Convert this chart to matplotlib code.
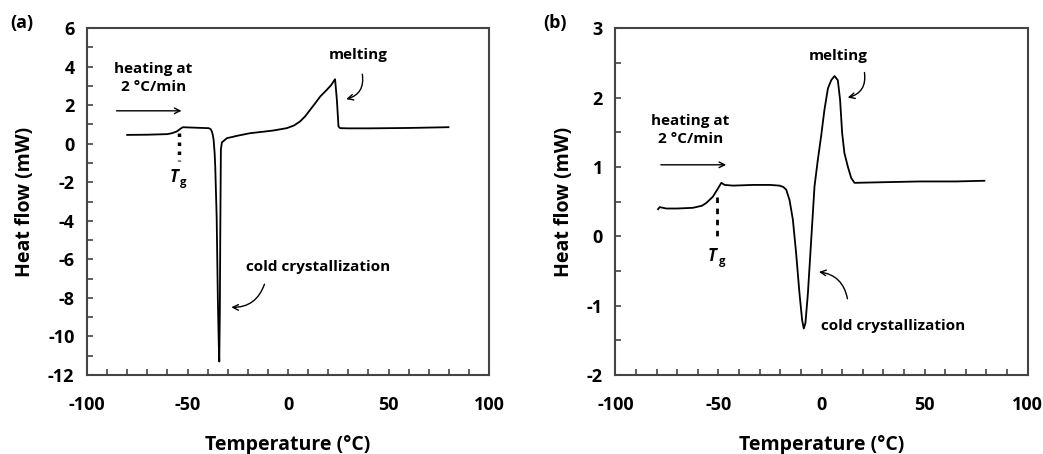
import matplotlib.pyplot as plt
from matplotlib.ticker import MultipleLocator

plt.rcParams["font.family"] = ["Open Sans", "DejaVu Sans"]
plt.rcParams["font.weight"] = "bold"
plt.rcParams["axes.unicode_minus"] = False

# panel (a) DSC trace
temp_a = [-80, -70, -60, -57.7, -55.3, -53.5, -52.3, -50.3, -45, -39.5, -38.5, -37.9, -37.4, -37.0,
          -36.5, -36.2, -35.5, -34.9, -34.5, -34.2, -33.9, -33.7, -33.4, -32.9, -30.4, -25, -18.8,
          -12, -7.2, -0.6, 3, 6.0, 8.5, 11.0, 13.5, 16.0, 19.3, 21.5, 22.6, 23.4, 24.3, 25.1, 25.9,
          30, 40, 50, 60, 70, 79.8]
flow_a = [0.46, 0.47, 0.5, 0.55, 0.64, 0.78, 0.86, 0.85, 0.83, 0.81, 0.76, 0.64, 0.45, 0.2,
          -0.5, -1.2, -3.8, -8.1, -10.2, -11.3, -8.5, -4.7, -0.3, 0.07, 0.29, 0.42, 0.55,
          0.63, 0.69, 0.81, 0.95, 1.16, 1.42, 1.76, 2.1, 2.45, 2.8, 3.05, 3.23, 3.35, 2.28, 0.9, 0.81,
          0.8, 0.8, 0.81, 0.82, 0.84, 0.86]

# panel (b) DSC trace
temp_b = [-79.3, -78.5, -75.3, -70, -62.4, -58, -55.9, -52.7, -50.2, -48.6, -47, -43, -33.3, -25,
          -20.4, -18.5, -17.1, -15.5, -13.9, -12.3, -10.7, -9.4, -8.6, -7.8, -6.6, -5.0, -3.4, -1.8,
          -0.2, 1.4, 3.1, 4.7, 6.3, 7.9, 9.0, 10.0, 11.1, 12.8, 14.4, 16.0, 31.3, 47.5, 65, 79.0]
flow_b = [0.39, 0.42, 0.40, 0.40, 0.41, 0.44, 0.48, 0.57, 0.69, 0.77, 0.74, 0.73, 0.74, 0.74,
          0.73, 0.71, 0.67, 0.52, 0.24, -0.25, -0.82, -1.21, -1.33, -1.25, -0.82, -0.05, 0.72, 1.10,
          1.44, 1.82, 2.13, 2.25, 2.31, 2.25, 1.97, 1.49, 1.2, 1.0, 0.84, 0.77, 0.78, 0.79, 0.79, 0.80]

fig = plt.figure(figsize=(10.43, 4.54), dpi=100)
ax_a = fig.add_axes([0.0834, 0.174, 0.3855, 0.764])
ax_b = fig.add_axes([0.590, 0.174, 0.3953, 0.764])

spine_col = "#444444"
for ax in (ax_a, ax_b):
    for s in ax.spines.values():
        s.set_color(spine_col)
        s.set_linewidth(1.5)
    ax.set_xlim(-100, 100)
    ax.xaxis.set_major_locator(MultipleLocator(50))
    ax.xaxis.set_minor_locator(MultipleLocator(10))
    ax.tick_params(which="both", direction="in", length=4, width=1.2, color=spine_col,
                   top=False, right=False)
    ax.tick_params(axis="x", which="major", pad=15, labelsize=13)
    ax.tick_params(axis="y", which="major", pad=9, labelsize=13)
    ax.set_xlabel("Temperature (°C)", fontsize=14, fontweight="bold", labelpad=15)
    ax.set_ylabel("Heat flow (mW)", fontsize=14, fontweight="bold", labelpad=9)

# (a)
ax_a.plot(temp_a, flow_a, color="black", lw=1.3)
ax_a.set_ylim(-12, 6)
ax_a.yaxis.set_major_locator(MultipleLocator(2))
ax_a.yaxis.set_minor_locator(MultipleLocator(1))

ax_a.annotate("", xy=(-51.6, 1.71), xytext=(-86.7, 1.71),
              arrowprops=dict(arrowstyle="->", color="black", lw=1))
ax_a.text(-67, 3.4, "heating at\n2 °C/min", ha="center", va="center", fontsize=11,
          fontweight="bold", linespacing=1.35)
ax_a.plot([-54.4, -54.4], [0.55, -0.9], color="black", lw=2.5, linestyle=(0, (1, 1.6)))
ax_a.text(-54.5, -1.75, "T", style="italic", fontsize=12, fontweight="bold", ha="right", va="center")
ax_a.text(-53.8, -2.0, "g", fontsize=8, fontweight="bold", ha="left", va="center")
ax_a.text(35, 4.6, "melting", ha="center", va="center", fontsize=11, fontweight="bold")
ax_a.annotate("", xy=(27.6, 2.28), xytext=(36.7, 3.75),
              arrowprops=dict(arrowstyle="->", color="black", lw=1,
                              connectionstyle="arc3,rad=-0.5"))
ax_a.text(15.2, -6.37, "cold crystallization", ha="center", va="center", fontsize=11,
          fontweight="bold")
ax_a.annotate("", xy=(-29.6, -8.48), xytext=(-11.3, -7.15),
              arrowprops=dict(arrowstyle="->", color="black", lw=1,
                              connectionstyle="arc3,rad=-0.4"))

# (b)
ax_b.plot(temp_b, flow_b, color="black", lw=1.3)
ax_b.set_ylim(-2, 3)
ax_b.yaxis.set_major_locator(MultipleLocator(1))
ax_b.yaxis.set_minor_locator(MultipleLocator(0.5))

ax_b.annotate("", xy=(-44.9, 1.03), xytext=(-79.3, 1.03),
              arrowprops=dict(arrowstyle="->", color="black", lw=1))
ax_b.text(-63.5, 1.53, "heating at\n2 °C/min", ha="center", va="center", fontsize=11,
          fontweight="bold", linespacing=1.35)
ax_b.plot([-50.7, -50.7], [0.57, 0.0], color="black", lw=2.0, linestyle=(0, (2, 2)))
ax_b.text(-50.8, -0.29, "T", style="italic", fontsize=12, fontweight="bold", ha="right", va="center")
ax_b.text(-50.0, -0.36, "g", fontsize=8, fontweight="bold", ha="left", va="center")
ax_b.text(7.9, 2.6, "melting", ha="center", va="center", fontsize=11, fontweight="bold")
ax_b.annotate("", xy=(11.4, 1.99), xytext=(20.6, 2.40),
              arrowprops=dict(arrowstyle="->", color="black", lw=1,
                              connectionstyle="arc3,rad=-0.5"))
ax_b.text(34.6, -1.30, "cold crystallization", ha="center", va="center", fontsize=11,
          fontweight="bold")
ax_b.annotate("", xy=(-2.6, -0.51), xytext=(12.8, -0.94),
              arrowprops=dict(arrowstyle="->", color="black", lw=1,
                              connectionstyle="arc3,rad=0.4"))

fig.text(0.021, 0.95, "(a)", fontsize=13, fontweight="bold", ha="center", va="center")
fig.text(0.532, 0.95, "(b)", fontsize=13, fontweight="bold", ha="center", va="center")

fig.savefig("out.png", dpi=100)
